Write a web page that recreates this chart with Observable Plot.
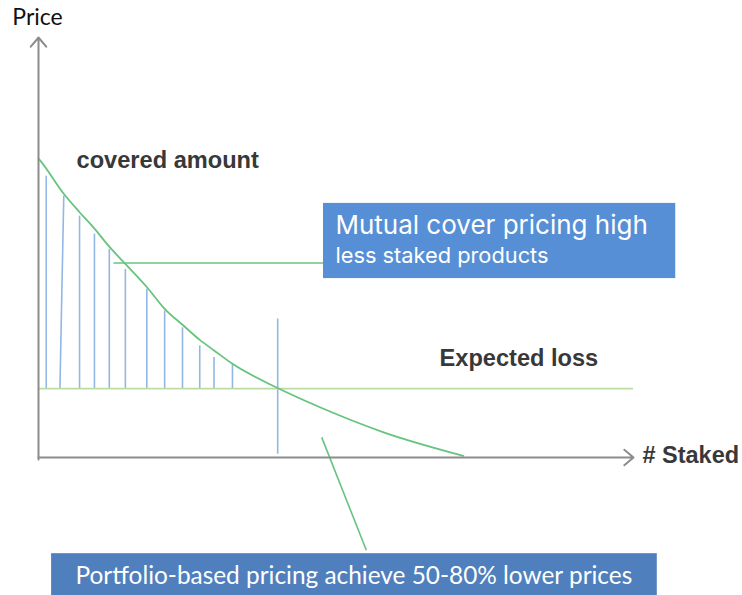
<!DOCTYPE html>
<html>
<head>
<meta charset="utf-8">
<script src="https://cdn.jsdelivr.net/npm/d3@7"></script>
<script src="https://cdn.jsdelivr.net/npm/@observablehq/plot@0.6"></script>
<style>
  html, body { margin: 0; padding: 0; background: #fff; }
  #chart svg { display: block; }
</style>
</head>
<body>
<div id="chart"></div>
<script>
// ---- Data (units: # Staked 0..100 horizontally, Price 0..100 vertically) ----
const curveX = [0, 0.3, 4.25, 6.9, 9.4, 11.9, 14.6, 18.2, 21.2, 24.2, 27.1, 29.5, 32.6, 40.1, 47.4, 58.0, 71.4];
const curveY = [71.2, 70.7, 62.8, 58.4, 54.5, 50.2, 46.1, 40.6, 35.4, 31.6, 28.0, 25.5, 22.3, 16.6, 11.9, 6.0, 0.4];

const hatchX      = [1.3, 4.25, 6.9, 9.4, 11.9, 14.6, 18.2, 21.2, 24.2, 27.1, 29.5, 32.6];
const hatchXBase  = [1.3, 3.6, 6.9, 9.4, 11.9, 14.6, 18.2, 21.2, 24.2, 27.1, 29.5, 32.6];
const hatchTop    = [67.1, 62.4, 57.6, 53.3, 49.7, 44.9, 40.2, 35.0, 31.0, 26.7, 23.9, 22.3];

const expectedLoss = 16.4;
const breakEvenX = 40.2;
const breakEvenTop = 33.1;
const breakEvenBottom = 0.9;

const axisLabels = ["Price", "# Staked"];
const noteLabels = ["covered amount", "Expected loss"];
const boxTitles = ["Mutual cover pricing high", "less staked products"];
const bottomNote = "Portfolio-based pricing achieve 50-80% lower prices";

// annotation geometry (data units)
const box1 = {x1: 47.9, x2: 107.1, y1: 42.6, y2: 60.5};
const box2 = {x1: 2.2, x2: 104.0, y1: -33.5, y2: -22.9};
const pointer1 = {x1: 12.6, y1: 46.3, x2: 47.9, y2: 46.3};
const pointer2 = {x1: 47.6, y1: 4.8, x2: 55.1, y2: -22.1};

const curve = curveX.map((x, i) => ({x, y: curveY[i]}));
const hatches = hatchX.map((x, i) => ({x1: hatchXBase[i], x2: x, y1: expectedLoss, y2: hatchTop[i]}));

const axisColor = "#8c8c8c";
const green = "#66c47e";
const lightGreen = "#bcdca4";
const hatchBlue = "#93b7e4";
const textDark = "#383838";
const boldFont = "'Liberation Sans', Arial, sans-serif";

const chart = Plot.plot({
  width: 742,
  height: 595,
  marginLeft: 38,
  marginRight: 109,
  marginTop: 37,
  marginBottom: 138,
  x: {domain: [0, 100], axis: null},
  y: {domain: [0, 100], axis: null},
  style: {background: "#fff", overflow: "visible"},
  marks: [
    // hatch lines (covered amount)
    Plot.link(hatches, {x1: "x1", y1: "y1", x2: "x2", y2: "y2", stroke: hatchBlue, strokeWidth: 1.6}),
    // break-even vertical
    Plot.link([{x: breakEvenX}], {x1: "x", x2: "x", y1: () => breakEvenBottom, y2: () => breakEvenTop, stroke: hatchBlue, strokeWidth: 1.6}),
    // expected loss line
    Plot.ruleY([expectedLoss], {x1: 0, x2: 100, stroke: lightGreen, strokeWidth: 1.8}),
    // price curve
    Plot.line(curve, {x: "x", y: "y", curve: "monotone-x", stroke: green, strokeWidth: 1.8}),
    // pointers
    Plot.link([pointer1, pointer2], {x1: "x1", y1: "y1", x2: "x2", y2: "y2", stroke: green, strokeWidth: 1.6}),
    // axes with arrows
    Plot.arrow([{x1: 0, y1: 0, x2: 100, y2: 0}], {x1: "x1", y1: "y1", x2: "x2", y2: "y2", stroke: axisColor, strokeWidth: 2, headLength: 9, headAngle: 80}),
    Plot.arrow([{x1: 0, y1: -0.5, x2: 0, y2: 100}], {x1: "x1", y1: "y1", x2: "x2", y2: "y2", stroke: axisColor, strokeWidth: 2, headLength: 9, headAngle: 80}),
    // boxes
    Plot.rect([box1], {x1: "x1", x2: "x2", y1: "y1", y2: "y2", fill: "#578fd6"}),
    Plot.rect([box2], {x1: "x1", x2: "x2", y1: "y1", y2: "y2", fill: "#4f80bd"}),
    // axis labels
    Plot.text([axisLabels[0]], {x: () => -4.4, y: () => 104.8, text: d => d, textAnchor: "start", lineAnchor: "middle", fontSize: 23, fill: "#111", fontFamily: "Lato, 'Open Sans', sans-serif"}),
    Plot.text([axisLabels[1]], {x: () => 101.5, y: () => -1.2, text: d => d, textAnchor: "start", lineAnchor: "bottom", fontSize: 23.5, fontWeight: "bold", fill: textDark, fontFamily: boldFont}),
    // notes
    Plot.text([noteLabels[0]], {x: () => 6.4, y: () => 69.0, text: d => d, textAnchor: "start", lineAnchor: "bottom", fontSize: 23.6, fontWeight: "bold", fill: textDark, fontFamily: boldFont}),
    Plot.text([noteLabels[1]], {x: () => 67.4, y: () => 21.9, text: d => d, textAnchor: "start", lineAnchor: "bottom", fontSize: 23.6, fontWeight: "bold", fill: textDark, fontFamily: boldFont}),
    // box 1 texts
    Plot.text([boxTitles[0]], {x: () => 49.9, y: () => 53.1, text: d => d, textAnchor: "start", lineAnchor: "bottom", fontSize: 26, fill: "#fff", fontFamily: "Inter, Roboto, sans-serif"}),
    Plot.text([boxTitles[1]], {x: () => 49.9, y: () => 46.2, text: d => d, textAnchor: "start", lineAnchor: "bottom", fontSize: 21.8, fill: "#fff", fontFamily: "Inter, Roboto, sans-serif"}),
    // box 2 text
    Plot.text([bottomNote], {x: () => 53.0, y: () => -30.0, text: d => d, textAnchor: "middle", lineAnchor: "bottom", fontSize: 24.4, fill: "#fff", fontFamily: "Lato, 'Open Sans', sans-serif"})
  ]
});
document.getElementById("chart").appendChild(chart);
</script>
</body>
</html>
